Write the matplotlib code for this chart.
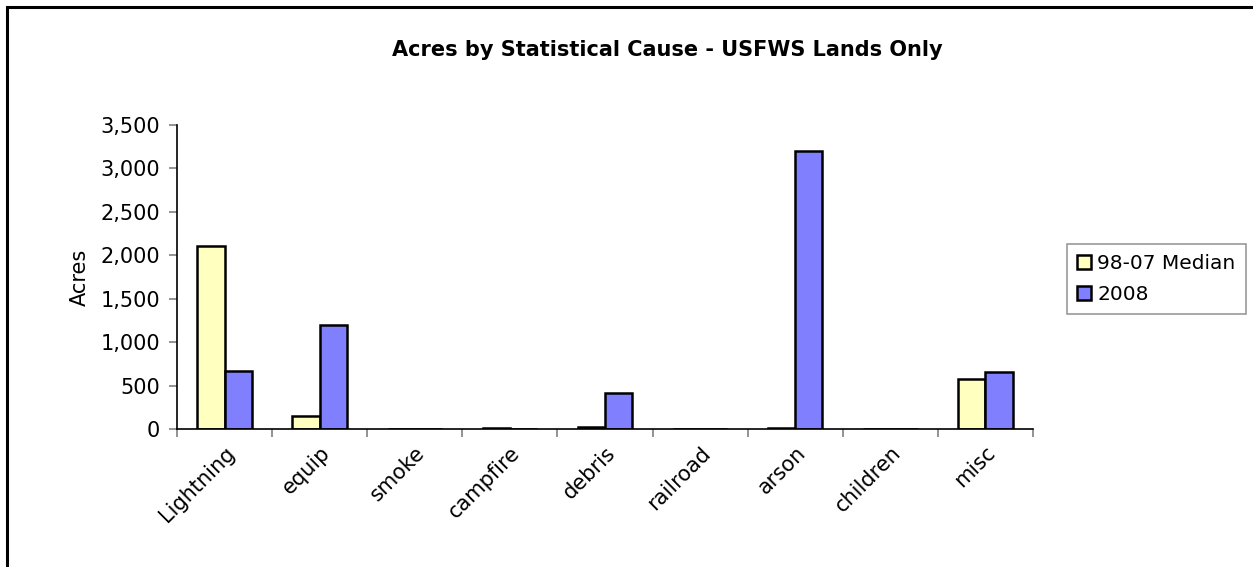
import matplotlib
matplotlib.use("Agg")
import matplotlib.pyplot as plt
from matplotlib.patches import Rectangle
import numpy as np

categories = ["Lightning", "equip", "smoke", "campfire", "debris", "railroad", "arson", "children", "misc"]
median_98_07 = [2110, 150, 0, 10, 25, 0, 8, 0, 575]
acres_2008 = [665, 1195, 0, 0, 420, 0, 3200, 0, 660]
series_names = ["98-07 Median", "2008"]
yticks = [0, 500, 1000, 1500, 2000, 2500, 3000, 3500]

plt.rcParams['font.family'] = ['DejaVu Sans']

fig = plt.figure(figsize=(12.53, 5.67), dpi=100)
ax = fig.add_axes([177/1253, 138/567, 856/1253, 304/567])

x = np.arange(len(categories))
w = 0.2857
ax.bar(x - w/2, median_98_07, width=w, color="#FFFFC0", edgecolor="black", linewidth=1.8, label=series_names[0])
ax.bar(x + w/2, acres_2008, width=w, color="#8080FF", edgecolor="black", linewidth=1.8, label=series_names[1])

ax.set_xlim(-0.5, len(categories) - 0.5)
ax.set_ylim(0, 3500)
ax.set_yticks(yticks)
ax.set_yticklabels([f"{v:,}" for v in yticks], fontsize=15)
ax.set_xticks(x)
ax.set_xticklabels(categories, rotation=45, ha="right", rotation_mode="anchor", fontsize=15)
ax.tick_params(axis="x", length=0, pad=10)
ax.set_xticks(np.arange(-0.5, len(categories)), minor=True)
ax.tick_params(axis="x", which="minor", length=6, color="#808080", width=1.2)
ax.tick_params(axis="y", length=6, color="#808080", width=1.2, pad=6)

for s in ["top", "right"]:
    ax.spines[s].set_visible(False)
ax.spines["left"].set_linewidth(1.2)
ax.spines["bottom"].set_linewidth(1.2)

ax.set_ylabel("Acres", fontsize=15, labelpad=8)

fig.text(667/1253, 1 - 50/567, "Acres by Statistical Cause - USFWS Lands Only",
         ha="center", va="center", fontsize=15, fontweight="bold")

leg = fig.legend(loc="center left", bbox_to_anchor=(1057/1253, 1 - 279/567), fontsize=14.5,
                 frameon=True, fancybox=False, edgecolor="#808080", handlelength=0.7,
                 handleheight=0.7, handletextpad=0.3, borderpad=0.5, labelspacing=0.6)
leg.get_frame().set_linewidth(1.2)

fig.patches.append(Rectangle((7/1253, -0.05), 1.1, 1.05 - 7/567, transform=fig.transFigure,
                             fill=False, edgecolor="black", linewidth=2.2))

fig.savefig("out.png", dpi=100)
